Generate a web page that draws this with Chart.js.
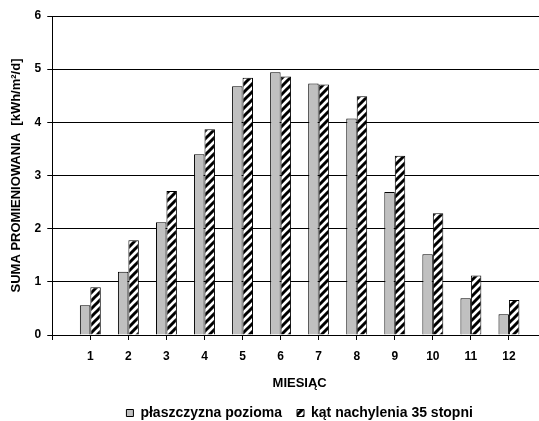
<!DOCTYPE html>
<html>
<head>
<meta charset="utf-8">
<script src="https://cdn.jsdelivr.net/npm/chart.js@4.4.1/dist/chart.umd.min.js"></script>
<style>
  html, body { margin: 0; padding: 0; background: #fff; overflow: hidden; }
  canvas { display: block; }
</style>
</head>
<body>
<canvas id="chart" width="547" height="421"></canvas>
<script>
const months = [1, 2, 3, 4, 5, 6, 7, 8, 9, 10, 11, 12];
const horizontal = [0.56, 1.19, 2.12, 3.40, 4.68, 4.94, 4.73, 4.07, 2.69, 1.52, 0.69, 0.39];
const tilted = [0.90, 1.78, 2.71, 3.87, 4.84, 4.86, 4.71, 4.49, 3.37, 2.29, 1.12, 0.66];
const seriesNames = ["płaszczyzna pozioma", "kąt nachylenia 35 stopni"];
const yTicks = [0, 1, 2, 3, 4, 5, 6];
const xMax = 13;

Chart.defaults.font.family = "'Liberation Sans', Arial, sans-serif";
Chart.defaults.font.weight = "bold";
Chart.defaults.color = "#000";

// diagonal hatch for the second series
function makeHatch() {
  const c = document.createElement("canvas");
  c.width = c.height = 8;
  const p = c.getContext("2d");
  p.fillStyle = "#fff";
  p.fillRect(0, 0, 8, 8);
  p.strokeStyle = "#000";
  p.lineWidth = 3;
  p.beginPath();
  p.moveTo(-2, 10); p.lineTo(10, -2);
  p.moveTo(-2, 2); p.lineTo(2, -2);
  p.moveTo(6, 10); p.lineTo(10, 6);
  p.stroke();
  return p.createPattern(c, "repeat");
}
const hatch = makeHatch();

const ctx = document.getElementById("chart").getContext("2d");
new Chart(ctx, {
  type: "bar",
  data: {
    datasets: [
      {
        label: seriesNames[0],
        data: months.map((m, i) => ({ x: m, y: horizontal[i] })),
        backgroundColor: "#c0c0c0",
        borderColor: "#000",
        borderWidth: 1
      },
      {
        label: seriesNames[1],
        data: months.map((m, i) => ({ x: m, y: tilted[i] })),
        backgroundColor: hatch,
        borderColor: "#000",
        borderWidth: 1
      }
    ]
  },
  options: {
    responsive: false,
    animation: false,
    categoryPercentage: 0.55,
    barPercentage: 1,
    layout: { padding: { left: 9, right: 0, top: 16, bottom: -9 } },
    plugins: {
      tooltip: { enabled: false },
      legend: {
        position: "bottom",
        fullSize: false,
        labels: { boxWidth: 7, boxHeight: 7, padding: 15, font: { size: 14, weight: "bold" } }
      }
    },
    scales: {
      x: {
        type: "linear",
        min: 0,
        max: xMax,
        offset: false,
        afterBuildTicks: s => { s.ticks = [0].concat(months).map(v => ({ value: v })); },
        ticks: {
          autoSkip: false,
          maxRotation: 0,
          padding: 9,
          font: { size: 12 },
          callback: v => (months.includes(v) ? String(v) : "")
        },
        grid: { offset: false, drawOnChartArea: false, drawTicks: true, tickLength: 5, color: "#000" },
        border: { color: "#000" },
        title: { display: true, text: "MIESIĄC", font: { size: 13 }, padding: { top: 3, bottom: 0 } }
      },
      y: {
        min: 0,
        max: 6,
        afterBuildTicks: s => { s.ticks = yTicks.map(v => ({ value: v })); },
        ticks: { padding: 6, font: { size: 12 } },
        grid: { color: "#000", tickLength: 5 },
        border: { color: "#000" },
        title: {
          display: true,
          text: "SUMA PROMIENIOWANIA  [kWh/m²/d]",
          font: { size: 13 },
          padding: { top: 0, bottom: 4 }
        }
      }
    }
  }
});
</script>
</body>
</html>
